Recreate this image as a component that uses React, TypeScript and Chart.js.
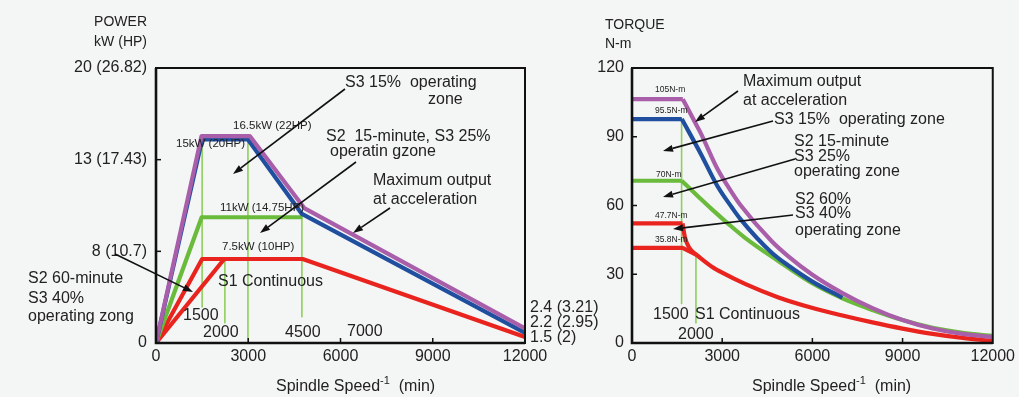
import React, { useEffect, useRef } from 'react';
import { Chart, registerables, LinearScale } from 'chart.js';

Chart.register(...registerables);

// ---------- DATA ----------
// Power chart (kW), x = spindle speed (rpm)
const powerTicks = [0, 8, 13, 20];
const powerTickLabels = ['0', '8 (10.7)', '13 (17.43)', '20 (26.82)'];
const speedTicks = [0, 3000, 6000, 9000, 12000];

const powerMaxAccel: [number, number][] = [[0, 0], [1480, 14.8], [3050, 14.8], [4820, 10.36], [12000, 1.27]];
const powerS3_15: [number, number][] = [[0, 0], [1500, 14.54], [2990, 14.54], [4745, 10.04], [12000, 0.88]];
const powerS2_15: [number, number][] = [[0, 0], [1485, 9.86], [4760, 9.86]];
const powerS2_60: [number, number][] = [[0, 0], [1500, 7.33], [2220, 7.33]];
const powerS1: [number, number][] = [[0, 0], [2220, 7.33], [4770, 7.33], [12000, 0.53]];
// guide lines: [speed, top, bottom]
const powerGuides: [number, number, number][] = [[1500, 14.54, 3.14], [2240, 7.33, 1.76], [2990, 14.54, 0], [4745, 10.04, 2.29]];

// Torque chart (N-m)
const torqueTicks = [0, 30, 60, 90, 120];
const torqueMaxAccel: [number, number][] = [[0, 106.4], [1690, 106.4], [2130, 95.5], [2290, 91.5], [2840, 76], [3330, 65.5], [3600, 60.3], [4640, 44.5], [5200, 37.8], [6000, 29.8], [7000, 21.8], [8000, 15.2], [9000, 10], [10000, 6.3], [11000, 4], [12000, 2.6]];
const torqueS3_15: [number, number][] = [[0, 97.7], [1657, 97.7], [2290, 82.5], [2840, 68.5], [3330, 59], [3600, 54.2], [4640, 39.5], [5200, 33.8], [6000, 26.8], [7000, 19.8]];
const torqueS2_15: [number, number][] = [[0, 70.8], [1650, 70.8], [2236, 63.5], [2670, 58.2], [3220, 51.8], [3760, 45.9], [4850, 35.9], [5950, 26.4], [7000, 19.5], [8000, 14.4], [9000, 10], [10000, 6.6], [11000, 4.4], [12000, 3.1]];
const torqueS2_60: [number, number][] = [[0, 52.2], [1680, 52.2], [1760, 46.2], [1900, 41.6], [2130, 38.6]];
const torqueS1: [number, number][] = [[0, 41.5], [1680, 41.5], [2130, 38.6], [2670, 33.2], [3000, 30.7], [3760, 25.8], [4850, 20], [5950, 15.5], [7000, 12], [8000, 9], [9000, 6.3], [10000, 4], [11000, 2.2], [12000, 0.9]];
const torqueGuides: [number, number, number][] = [[1650, 97.7, 17.2], [2127, 38.6, 8.7]];

// ---------- STYLE ----------
const BG = '#f4f5f5';
const TEXT = '#222';
const FONT = '"Liberation Sans", Arial, sans-serif';
const PURPLE = '#a95ea9';
const BLUE = '#1f4f9e';
const GREEN = '#6aba3c';
const RED = '#e9241f';
const GUIDE = '#8fcf5c';

const POWER_BREAKS = powerTicks;

class PiecewiseScale extends LinearScale {
  static id = 'piecewise';
  getPixelForValue(value: number) {
    const b = POWER_BREAKS;
    const n = b.length - 1;
    let i = 0;
    while (i < n - 1 && value > b[i + 1]) i++;
    const frac = (i + (value - b[i]) / (b[i + 1] - b[i])) / n;
    return this.getPixelForDecimal(frac);
  }
  getValueForPixel(pixel: number) {
    const b = POWER_BREAKS;
    const d = this.getDecimalForPixel(pixel) * (b.length - 1);
    const i = Math.min(Math.max(Math.floor(d), 0), b.length - 2);
    return b[i] + (d - i) * (b[i + 1] - b[i]);
  }
}
Chart.register(PiecewiseScale as any);

type Txt = { t: string; x: number; y: number; size?: number; align?: CanvasTextAlign };
type Arrow = [number, number, number, number];

const leftTexts: Txt[] = [
  { t: 'POWER', x: 147, y: 22, size: 14, align: 'right' },
  { t: 'kW (HP)', x: 147, y: 42, size: 14, align: 'right' },
  { t: 'S3 15%  operating', x: 345, y: 83 },
  { t: 'zone', x: 428, y: 100 },
  { t: 'S2  15-minute, S3 25%', x: 326, y: 137 },
  { t: 'operatin gzone', x: 330, y: 152 },
  { t: 'Maximum output', x: 373, y: 181 },
  { t: 'at acceleration', x: 373, y: 200 },
  { t: '16.5kW (22HP)', x: 233, y: 126, size: 11.5 },
  { t: '15kW (20HP)', x: 176, y: 144, size: 11.5 },
  { t: '11kW (14.75HP)', x: 220, y: 208, size: 11.5 },
  { t: '7.5kW (10HP)', x: 222, y: 247, size: 11.5 },
  { t: 'S1 Continuous', x: 218, y: 282 },
  { t: '1500', x: 183, y: 316 },
  { t: '2000', x: 203, y: 333 },
  { t: '4500', x: 285, y: 333 },
  { t: '7000', x: 347, y: 332 },
  { t: '2.4 (3.21)', x: 530, y: 308 },
  { t: '2.2 (2.95)', x: 530, y: 323 },
  { t: '1.5 (2)', x: 530, y: 338 },
  { t: 'S2 60-minute', x: 28, y: 279 },
  { t: 'S3 40%', x: 28, y: 299 },
  { t: 'operating zong', x: 28, y: 317 },
];
const leftArrows: Arrow[] = [
  [345, 89, 233, 174],
  [356, 162, 260, 233],
  [390, 208, 353, 233],
  [115, 254, 193, 292],
];
const rightTexts: Txt[] = [
  { t: 'TORQUE', x: 605, y: 25, size: 14 },
  { t: 'N-m', x: 605, y: 44, size: 14 },
  { t: '105N-m', x: 655, y: 90, size: 8.5 },
  { t: '95.5N-m', x: 655, y: 111, size: 8.5 },
  { t: '70N-m', x: 656, y: 175, size: 8.5 },
  { t: '47.7N-m', x: 655, y: 216, size: 8.5 },
  { t: '35.8N-m', x: 655, y: 240, size: 8.5 },
  { t: 'Maximum output', x: 743, y: 82 },
  { t: 'at acceleration', x: 743, y: 101 },
  { t: 'S3 15%  operating zone', x: 774, y: 120 },
  { t: 'S2 15-minute', x: 794, y: 142 },
  { t: 'S3 25%', x: 794, y: 157 },
  { t: 'operating zone', x: 794, y: 172 },
  { t: 'S2 60%', x: 795, y: 200 },
  { t: 'S3 40%', x: 795, y: 214 },
  { t: 'operating zone', x: 795, y: 231 },
  { t: '1500', x: 653, y: 315 },
  { t: 'S1 Continuous', x: 695, y: 315 },
  { t: '2000', x: 678, y: 335 },
];
const rightArrows: Arrow[] = [
  [738, 91, 695, 122],
  [773, 121, 663, 151],
  [795, 159, 663, 197],
  [793, 215, 673, 229],
];

const font = (s: number) => `${s}px ${FONT}`;

function decorPlugin(offsetX: number, texts: Txt[], arrows: Arrow[]) {
  return {
    id: 'decor',
    afterDraw(chart: any) {
      const { ctx, chartArea: a, scales } = chart;
      ctx.save();
      // ticks (inward)
      ctx.strokeStyle = '#111';
      ctx.lineWidth = 1.5;
      const xs = scales.x;
      const ys = scales.y;
      xs.ticks.forEach((tk: any, i: number) => {
        if (i === 0 || i === xs.ticks.length - 1) return;
        const p = xs.getPixelForValue(tk.value);
        ctx.beginPath(); ctx.moveTo(p, a.bottom); ctx.lineTo(p, a.bottom - 5); ctx.stroke();
      });
      ys.ticks.forEach((tk: any, i: number) => {
        if (i === 0 || i === ys.ticks.length - 1) return;
        const p = ys.getPixelForValue(tk.value);
        ctx.beginPath(); ctx.moveTo(a.left, p); ctx.lineTo(a.left + 5, p); ctx.stroke();
      });
      // box
      ctx.lineWidth = 2;
      ctx.strokeRect(a.left, a.top, a.right - a.left, a.bottom - a.top);
      ctx.lineWidth = 2.6;
      ctx.beginPath();
      ctx.moveTo(a.left, a.top); ctx.lineTo(a.left, a.bottom); ctx.lineTo(a.right, a.bottom);
      ctx.stroke();
      // axis title with superscript
      ctx.fillStyle = TEXT;
      ctx.textBaseline = 'middle';
      ctx.textAlign = 'left';
      let tx = a.left + 120;
      const ty = 387;
      ctx.font = font(16);
      ctx.fillText('Spindle Speed', tx, ty);
      tx += ctx.measureText('Spindle Speed').width;
      ctx.font = font(11);
      ctx.fillText('-1', tx, ty - 6);
      tx += ctx.measureText('-1').width;
      ctx.font = font(16);
      ctx.fillText('  (min)', tx, ty);
      // texts
      texts.forEach((t) => {
        ctx.font = font(t.size ?? 16);
        ctx.textAlign = t.align ?? 'left';
        ctx.fillText(t.t, t.x - offsetX, t.y);
      });
      // arrows
      ctx.strokeStyle = '#111';
      ctx.fillStyle = '#111';
      ctx.lineWidth = 1.6;
      arrows.forEach(([x1, y1, x2, y2]) => {
        const X1 = x1 - offsetX, X2 = x2 - offsetX;
        const ang = Math.atan2(y2 - y1, X2 - X1);
        const L = 10, W = 3.5;
        const bx = X2 - L * Math.cos(ang), by = y2 - L * Math.sin(ang);
        ctx.beginPath(); ctx.moveTo(X1, y1); ctx.lineTo(bx, by); ctx.stroke();
        ctx.beginPath();
        ctx.moveTo(X2, y2);
        ctx.lineTo(bx + W * Math.sin(ang), by - W * Math.cos(ang));
        ctx.lineTo(bx - W * Math.sin(ang), by + W * Math.cos(ang));
        ctx.closePath(); ctx.fill();
      });
      ctx.restore();
    },
  };
}

const toXY = (pts: [number, number][]) => pts.map(([x, y]) => ({ x, y }));

function lineSet(pts: [number, number][], color: string, order: number, width = 4.2) {
  return {
    data: toXY(pts), borderColor: color, borderWidth: width, order,
    pointRadius: 0, tension: 0, fill: false, borderJoinStyle: 'round', borderCapStyle: 'butt',
  };
}
// straight part up to index k, monotone curve from k on
function curveSets(pts: [number, number][], k: number, color: string, order: number) {
  return [
    lineSet(pts.slice(0, k + 1), color, order),
    { ...lineSet(pts.slice(k), color, order), cubicInterpolationMode: 'monotone' },
  ];
}
function guideSets(g: [number, number, number][]) {
  return g.map(([x, top, bottom]) => lineSet([[x, top], [x, bottom]], GUIDE, 10, 1.6));
}

function baseOptions(pad: any, yWidth: number, xTicks: number[]) {
  return {
    responsive: false,
    animation: false,
    devicePixelRatio: 1,
    layout: { padding: pad, autoPadding: false },
    plugins: { legend: { display: false }, tooltip: { enabled: false }, title: { display: false } },
    scales: {
      x: {
        type: 'linear', min: 0, max: 12000,
        afterFit: (s: any) => { s.height = 54; },
        afterBuildTicks: (s: any) => { s.ticks = xTicks.map((v) => ({ value: v })); },
        grid: { display: false, drawTicks: false },
        border: { display: false },
        ticks: { padding: 4, color: TEXT, font: { family: FONT, size: 16 }, maxRotation: 0, autoSkip: false, callback: (v: any) => String(v) },
      },
      y: {
        afterFit: (s: any) => { s.width = yWidth; },
        grid: { display: false, drawTicks: false },
        border: { display: false },
        ticks: { color: TEXT, font: { family: FONT, size: 16 }, autoSkip: false },
      },
    },
  } as any;
}

export default function App() {
  const leftRef = useRef<HTMLCanvasElement>(null);
  const rightRef = useRef<HTMLCanvasElement>(null);

  useEffect(() => {
    const lo = baseOptions({ top: 68, right: 85, left: 0, bottom: 0 }, 156, speedTicks);
    lo.scales.y = {
      ...lo.scales.y, type: 'piecewise', min: 0, max: 20,
      afterBuildTicks: (s: any) => { s.ticks = powerTicks.map((v) => ({ value: v })); },
      ticks: { ...lo.scales.y.ticks, padding: 9, callback: (v: any) => powerTickLabels[powerTicks.indexOf(v)] ?? '' },
    };
    const left = new Chart(leftRef.current!, {
      type: 'line',
      data: {
        datasets: [
          lineSet(powerMaxAccel, PURPLE, 0),
          lineSet(powerS3_15, BLUE, 1),
          lineSet(powerS2_15, GREEN, 2),
          lineSet(powerS2_60, RED, 3),
          lineSet(powerS1, RED, 3),
          ...guideSets(powerGuides),
        ] as any,
      },
      options: lo,
      plugins: [decorPlugin(0, leftTexts, leftArrows)],
    });

    const ro = baseOptions({ top: 68, right: 21, left: 0, bottom: 0 }, 72, speedTicks);
    ro.scales.y = {
      ...ro.scales.y, type: 'linear', min: 0, max: 120,
      afterBuildTicks: (s: any) => { s.ticks = torqueTicks.map((v) => ({ value: v })); },
      ticks: { ...ro.scales.y.ticks, padding: 8, callback: (v: any) => String(v) },
    };
    const right = new Chart(rightRef.current!, {
      type: 'line',
      data: {
        datasets: [
          ...curveSets(torqueMaxAccel, 1, PURPLE, 0),
          ...curveSets(torqueS3_15, 1, BLUE, 1),
          ...curveSets(torqueS2_15, 1, GREEN, 2),
          ...curveSets(torqueS2_60, 1, RED, 3),
          ...curveSets(torqueS1, 2, RED, 3),
          ...guideSets(torqueGuides),
        ] as any,
      },
      options: ro,
      plugins: [decorPlugin(560, rightTexts, rightArrows)],
    });
    return () => { left.destroy(); right.destroy(); };
  }, []);

  return (
    <div style={{ position: 'fixed', left: 0, top: 0, width: 1019, height: 397, background: BG, overflow: 'hidden' }}>
      <canvas ref={leftRef} width={610} height={397} style={{ position: 'absolute', left: 0, top: 0, width: 610, height: 397 }} />
      <canvas ref={rightRef} width={459} height={397} style={{ position: 'absolute', left: 560, top: 0, width: 459, height: 397 }} />
    </div>
  );
}
